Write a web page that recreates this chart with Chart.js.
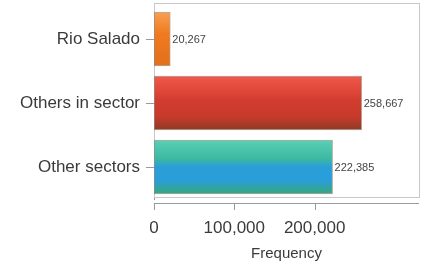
<!DOCTYPE html>
<html>
<head>
<meta charset="utf-8">
<script src="https://cdn.jsdelivr.net/npm/chart.js@4"></script>
<style>
  html, body { margin: 0; padding: 0; background: #fff; }
  #wrap { width: 428px; height: 271px; }
</style>
</head>
<body>
<div id="wrap"><canvas id="myChart" width="428" height="271"></canvas></div>
<script>
const categories = ["Rio Salado", "Others in sector", "Other sectors"];
const frequencies = [20267, 258667, 222385];
const xTicks = [0, 100000, 200000];
const axisTitle = "Frequency";

// gradient stops for each bar, top to bottom
const barShades = [
  [[0, "#f7a050"], [0.4, "#f07a20"], [1, "#e2701a"]],
  [[0, "#f2584a"], [0.45, "#d23c2e"], [0.75, "#c83a2c"], [1, "#8e3a24"]],
  [[0, "#5acfb4"], [0.35, "#3cb9a2"], [0.5, "#2a9ed8"], [0.75, "#2a9ed8"], [1, "#36a878"]],
];

const FONT = "'Liberation Sans', Arial, sans-serif";
const TEXT = "#3a3a3a";
const fmt = (v) => v.toLocaleString("en-US");
const BAR_H = 54;

function barGradient(ctx) {
  const chart = ctx.chart;
  const y = chart.scales.y;
  const stops = barShades[ctx.dataIndex];
  if (!chart.chartArea || !y) return stops[1][1];
  const c = y.getPixelForValue(ctx.dataIndex);
  const g = chart.ctx.createLinearGradient(0, c - BAR_H / 2, 0, c + BAR_H / 2);
  stops.forEach(([p, col]) => g.addColorStop(p, col));
  return g;
}

// plot frame, x axis line with ticks, value labels
const framePlugin = {
  id: "frame",
  beforeDatasetsDraw(chart) {
    const { ctx, chartArea } = chart;
    ctx.save();
    ctx.strokeStyle = "#c8c8c8";
    ctx.lineWidth = 1;
    ctx.strokeRect(chartArea.left + 0.5, 3.5, chartArea.right - chartArea.left, 194);
    ctx.restore();
  },
  afterDatasetsDraw(chart) {
    const { ctx, chartArea } = chart;
    const x = chart.scales.x;
    ctx.save();
    ctx.strokeStyle = "#9a9a9a";
    ctx.lineWidth = 1;
    ctx.beginPath();
    ctx.moveTo(chartArea.left, 203.5);
    ctx.lineTo(chartArea.right, 203.5);
    x.ticks.forEach((t, i) => {
      const px = Math.round(x.getPixelForTick(i)) + 0.5;
      ctx.moveTo(px, 203);
      ctx.lineTo(px, 210);
    });
    ctx.stroke();

    const meta = chart.getDatasetMeta(0);
    ctx.fillStyle = "#444";
    ctx.font = "11px " + FONT;
    ctx.textBaseline = "middle";
    ctx.textAlign = "left";
    meta.data.forEach((bar, i) => {
      ctx.fillText(fmt(frequencies[i]), bar.x + 2, bar.y + 1);
    });
    ctx.restore();
  },
};

const ctx = document.getElementById("myChart").getContext("2d");
new Chart(ctx, {
  type: "bar",
  data: {
    labels: categories,
    datasets: [
      {
        data: frequencies,
        backgroundColor: barGradient,
        borderColor: "rgba(90, 60, 40, 0.45)",
        borderWidth: 1,
        borderSkipped: false,
        barThickness: BAR_H,
      },
    ],
  },
  options: {
    indexAxis: "y",
    responsive: false,
    animation: false,
    layout: { padding: { top: 7, right: 9, left: 0, bottom: 0 } },
    plugins: { legend: { display: false }, tooltip: { enabled: false } },
    scales: {
      x: {
        min: 0,
        max: 330000,
        afterBuildTicks: (scale) => {
          scale.ticks = xTicks.map((v) => ({ value: v }));
        },
        afterFit: (scale) => {
          scale.height = 72;
          scale.paddingLeft = 0;
          scale.paddingRight = 0;
        },
        border: { display: false },
        grid: { display: false },
        ticks: {
          padding: 11,
          color: TEXT,
          font: { family: FONT, size: 17 },
          callback: (v) => fmt(v),
        },
        title: {
          display: true,
          text: axisTitle,
          color: TEXT,
          font: { family: FONT, size: 15 },
          padding: { top: 2, bottom: 8 },
        },
      },
      y: {
        afterFit: (scale) => {
          scale.width = 154;
          scale.paddingTop = 0;
          scale.paddingBottom = 0;
        },
        border: { display: true, color: "#9a9a9a" },
        grid: {
          offset: false,
          drawOnChartArea: false,
          tickLength: 8,
          color: "#9a9a9a",
        },
        ticks: {
          padding: 6,
          color: TEXT,
          font: { family: FONT, size: 17 },
        },
      },
    },
  },
  plugins: [framePlugin],
});
</script>
</body>
</html>
